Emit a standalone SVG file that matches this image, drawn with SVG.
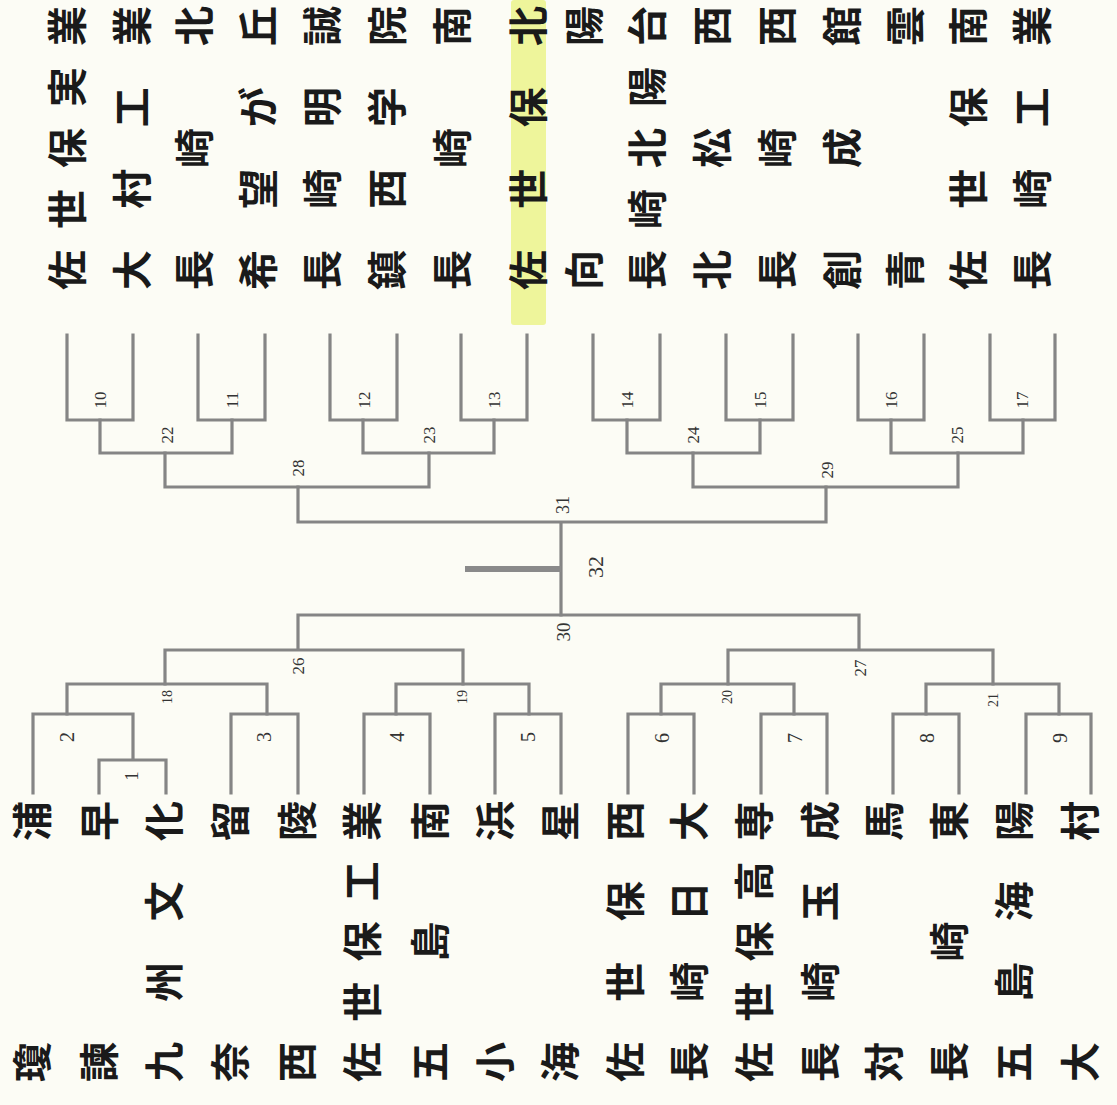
<svg xmlns="http://www.w3.org/2000/svg" width="1117" height="1105" viewBox="0 0 1117 1105">
<style>
.ln{fill:none;stroke:#858585;stroke-width:3.2;stroke-linecap:square;stroke-linejoin:miter}
.stub{fill:none;stroke:#8a8a8a;stroke-width:6}
.tm{font-family:"Noto Sans CJK JP","Noto Sans CJK SC",sans-serif;font-weight:700;font-size:40px;fill:#1a1a1a;text-anchor:middle;dominant-baseline:central}
.no{font-family:"Liberation Serif",serif;fill:#333;text-anchor:middle;dominant-baseline:central;font-size:17px}
.s14{font-size:14px}.s18{font-size:18px}.s19{font-size:19px}.s20{font-size:20px}.s22{font-size:22px}
</style>
<rect width="1117" height="1105" fill="#fcfcf5"/>
<rect x="511" y="0" width="35" height="325" rx="3" fill="#eef59b"/>
<g id="connectors">
<path class="ln" d="M67 335V420H133V335M198 335V420H265V335M330 335V420H397V335M461 335V420H527V335M593 335V420H660V335M726 335V420H793V335M858 335V420H924V335M990 335V420H1055V335"/>
<path class="ln" d="M100 420V453H232V420M363 420V453H494V420M627 420V453H760V420M891 420V453H1023V420"/>
<path class="ln" d="M165 453V487H429V453M693 453V487H958V453"/>
<path class="ln" d="M298 487V522H826V487M561 522V615"/>
<path class="stub" d="M465 569H561"/>
<path class="ln" d="M298 650V615H859V650M165 684V650H463V684M728 684V650H993V684"/>
<path class="ln" d="M67 714V684H267V714M396 714V684H529V714M661 714V684H794V714M926 714V684H1059V714"/>
<path class="ln" d="M33 793V714H133V760M99 793V760H166V793M231 793V714H298V793M364 793V714H430V793M495 793V714H561V793M628 793V714H694V793M761 793V714H827V793M893 793V714H959V793M1026 793V714H1091V793"/>
</g>
<g id="match-numbers">
<text class="no" transform="translate(100,400) rotate(-90)">10</text>
<text class="no" transform="translate(232,400) rotate(-90)">11</text>
<text class="no" transform="translate(364,400) rotate(-90)">12</text>
<text class="no" transform="translate(494,400) rotate(-90)">13</text>
<text class="no" transform="translate(627,400) rotate(-90)">14</text>
<text class="no" transform="translate(760,400) rotate(-90)">15</text>
<text class="no" transform="translate(891,400) rotate(-90)">16</text>
<text class="no" transform="translate(1022,400) rotate(-90)">17</text>
<text class="no" transform="translate(167,435) rotate(-90)">22</text>
<text class="no" transform="translate(429,435) rotate(-90)">23</text>
<text class="no" transform="translate(693,435) rotate(-90)">24</text>
<text class="no" transform="translate(957,435) rotate(-90)">25</text>
<text class="no" transform="translate(298,468) rotate(-90)">28</text>
<text class="no" transform="translate(827,470) rotate(-90)">29</text>
<text class="no s18" transform="translate(563,505) rotate(-90)">31</text>
<text class="no s22" transform="translate(595,567) rotate(-90)">32</text>
<text class="no s19" transform="translate(563,632) rotate(-90)">30</text>
<text class="no" transform="translate(298,666) rotate(-90)">26</text>
<text class="no" transform="translate(860,668) rotate(-90)">27</text>
<text class="no s14" transform="translate(167,697) rotate(-90)">18</text>
<text class="no s14" transform="translate(462,697) rotate(-90)">19</text>
<text class="no s14" transform="translate(727,697) rotate(-90)">20</text>
<text class="no s14" transform="translate(993,700) rotate(-90)">21</text>
<text class="no s20" transform="translate(67,737) rotate(-90)">2</text>
<text class="no s18" transform="translate(132,776) rotate(-90)">1</text>
<text class="no s20" transform="translate(264,737) rotate(-90)">3</text>
<text class="no s20" transform="translate(397,737) rotate(-90)">4</text>
<text class="no s20" transform="translate(528,737) rotate(-90)">5</text>
<text class="no s20" transform="translate(662,738) rotate(-90)">6</text>
<text class="no s20" transform="translate(795,738) rotate(-90)">7</text>
<text class="no s20" transform="translate(927,738) rotate(-90)">8</text>
<text class="no s20" transform="translate(1060,738) rotate(-90)">9</text>
</g>
<g id="team-sasebo-jitsugyo"><text class="tm" transform="translate(65,270) rotate(-90)" x="0 61 122 183 244" y="0">佐世保実業</text></g>
<g id="team-omura-kogyo"><text class="tm" transform="translate(130,270) rotate(-90)" x="0 81.3 162.7 244" y="0">大村工業</text></g>
<g id="team-nagasaki-kita"><text class="tm" transform="translate(192,270) rotate(-90)" x="0 122 244" y="0">長崎北</text></g>
<g id="team-kibougaoka"><text class="tm" transform="translate(256,270) rotate(-90)" x="0 81.3 162.7 244" y="0">希望が丘</text></g>
<g id="team-nagasaki-meisei"><text class="tm" transform="translate(320,270) rotate(-90)" x="0 81.3 162.7 244" y="0">長崎明誠</text></g>
<g id="team-chinzei-gakuin"><text class="tm" transform="translate(385,270) rotate(-90)" x="0 81.3 162.7 244" y="0">鎮西学院</text></g>
<g id="team-nagasaki-minami"><text class="tm" transform="translate(450,270) rotate(-90)" x="0 122 244" y="0">長崎南</text></g>
<g id="team-sasebo-kita"><text class="tm" transform="translate(526,270) rotate(-90)" x="0 81.3 162.7 244" y="0">佐世保北</text></g>
<g id="team-koyo"><text class="tm" transform="translate(582,270) rotate(-90)" x="0 244" y="0">向陽</text></g>
<g id="team-nagasaki-hokuyodai"><text class="tm" transform="translate(645,270) rotate(-90)" x="0 61 122 183 244" y="0">長崎北陽台</text></g>
<g id="team-hokusho-nishi"><text class="tm" transform="translate(710,270) rotate(-90)" x="0 122 244" y="0">北松西</text></g>
<g id="team-nagasaki-nishi"><text class="tm" transform="translate(775,270) rotate(-90)" x="0 122 244" y="0">長崎西</text></g>
<g id="team-soseikan"><text class="tm" transform="translate(840,270) rotate(-90)" x="0 122 244" y="0">創成館</text></g>
<g id="team-seiun"><text class="tm" transform="translate(903,270) rotate(-90)" x="0 244" y="0">青雲</text></g>
<g id="team-sasebo-minami"><text class="tm" transform="translate(966,270) rotate(-90)" x="0 81.3 162.7 244" y="0">佐世保南</text></g>
<g id="team-nagasaki-kogyo"><text class="tm" transform="translate(1030,270) rotate(-90)" x="0 81.3 162.7 244" y="0">長崎工業</text></g>
<g id="team-keiho"><text class="tm" transform="translate(30,1062) rotate(-90)" x="0 241" y="0">瓊浦</text></g>
<g id="team-isahaya"><text class="tm" transform="translate(97,1062) rotate(-90)" x="0 241" y="0">諫早</text></g>
<g id="team-kyushu-bunka"><text class="tm" transform="translate(162,1062) rotate(-90)" x="0 80.3 160.7 241" y="0">九州文化</text></g>
<g id="team-naru"><text class="tm" transform="translate(228,1062) rotate(-90)" x="0 241" y="0">奈留</text></g>
<g id="team-seiryo"><text class="tm" transform="translate(295,1062) rotate(-90)" x="0 241" y="0">西陵</text></g>
<g id="team-sasebo-kogyo"><text class="tm" transform="translate(360,1062) rotate(-90)" x="0 60.25 120.5 180.75 241" y="0">佐世保工業</text></g>
<g id="team-goto-minami"><text class="tm" transform="translate(428,1062) rotate(-90)" x="0 120.5 241" y="0">五島南</text></g>
<g id="team-obama"><text class="tm" transform="translate(493,1062) rotate(-90)" x="0 241" y="0">小浜</text></g>
<g id="team-kaisei"><text class="tm" transform="translate(558,1062) rotate(-90)" x="0 241" y="0">海星</text></g>
<g id="team-sasebo-nishi"><text class="tm" transform="translate(623,1062) rotate(-90)" x="0 80.3 160.7 241" y="0">佐世保西</text></g>
<g id="team-nagasaki-nichidai"><text class="tm" transform="translate(687,1062) rotate(-90)" x="0 80.3 160.7 241" y="0">長崎日大</text></g>
<g id="team-sasebo-kosen"><text class="tm" transform="translate(752,1062) rotate(-90)" x="0 60.25 120.5 180.75 241" y="0">佐世保高専</text></g>
<g id="team-nagasaki-gyokusei"><text class="tm" transform="translate(818,1062) rotate(-90)" x="0 80.3 160.7 241" y="0">長崎玉成</text></g>
<g id="team-tsushima"><text class="tm" transform="translate(882,1062) rotate(-90)" x="0 241" y="0">対馬</text></g>
<g id="team-nagasaki-higashi"><text class="tm" transform="translate(947,1062) rotate(-90)" x="0 120.5 241" y="0">長崎東</text></g>
<g id="team-goto-kaiyo"><text class="tm" transform="translate(1012,1062) rotate(-90)" x="0 80.3 160.7 241" y="0">五島海陽</text></g>
<g id="team-omura"><text class="tm" transform="translate(1078,1062) rotate(-90)" x="0 241" y="0">大村</text></g>
</svg>
